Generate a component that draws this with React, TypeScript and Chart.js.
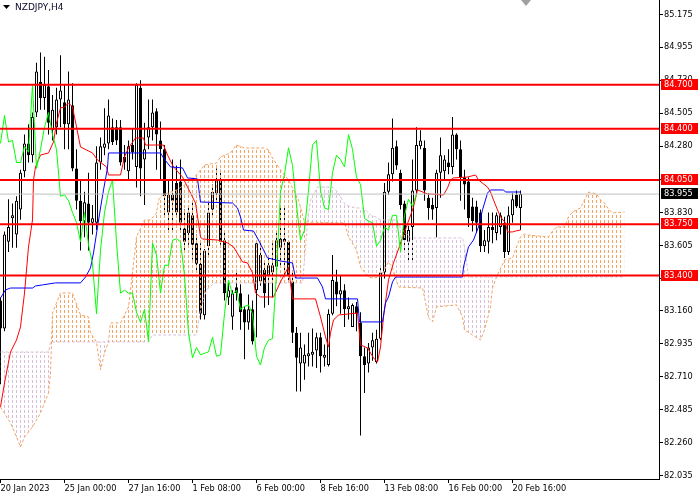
import React, { useEffect, useRef } from 'react';
import { Chart, registerables } from 'chart.js';

Chart.register(...registerables);

const symbolTitle = 'NZDJPY,H4';
const xTickBars = [0, 16, 32, 48, 64, 80, 96, 112, 128];
const xTickLabels = ['20 Jan 2023', '25 Jan 00:00', '27 Jan 16:00', '1 Feb 08:00', '6 Feb 00:00', '8 Feb 16:00', '13 Feb 08:00', '16 Feb 00:00', '20 Feb 16:00'];
const yTickValues = [85.175, 84.955, 84.73, 84.505, 84.28, 84.055, 83.83, 83.605, 83.38, 83.16, 82.935, 82.71, 82.485, 82.26, 82.035];
const levels = [84.7, 84.4, 84.05, 83.75, 83.4];
const lastPrice = 83.955;

const opens = [83.23, 83.04, 83.63, 83.79, 83.68, 83.85, 84.11, 84.30, 84.22, 84.51, 84.72, 84.61, 84.69, 84.39, 84.41, 84.60, 84.58, 84.43, 84.56, 84.13, 83.91, 83.77, 83.89, 83.76, 83.76, 84.17, 84.27, 84.30, 84.41, 84.41, 84.41, 84.21, 84.11, 84.29, 84.14, 84.68, 84.19, 84.34, 84.41, 84.52, 84.32, 84.26, 83.83, 83.95, 84.03, 84.04, 83.72, 83.69, 83.81, 83.62, 83.48, 83.13, 83.60, 83.85, 83.96, 84.05, 83.64, 83.25, 83.12, 83.32, 83.28, 83.17, 83.08, 83.17, 83.30, 83.36, 83.44, 83.40, 83.42, 83.46, 83.59, 83.65, 83.63, 83.36, 83.01, 82.80, 82.80, 82.85, 82.86, 82.89, 82.98, 82.84, 82.79, 83.14, 83.36, 83.27, 83.30, 83.17, 83.05, 83.19, 83.08, 82.85, 82.80, 82.91, 82.81, 82.97, 83.42, 83.97, 84.09, 84.28, 84.10, 83.89, 83.63, 83.73, 83.98, 84.28, 84.27, 83.93, 83.88, 83.86, 84.10, 84.11, 84.17, 84.14, 84.36, 84.26, 84.07, 84.04, 83.87, 83.87, 83.83, 83.60, 83.63, 83.73, 83.69, 83.73, 83.76, 83.56, 83.81, 83.95, 83.86];
const highs = [83.25, 83.70, 83.92, 83.89, 83.94, 84.12, 84.36, 84.43, 84.51, 84.85, 84.92, 84.89, 84.80, 84.63, 84.68, 84.90, 84.70, 84.79, 84.71, 84.26, 84.05, 83.97, 84.10, 83.88, 84.28, 84.34, 84.54, 84.60, 84.47, 84.46, 84.46, 84.29, 84.32, 84.40, 84.71, 84.73, 84.44, 84.60, 84.60, 84.54, 84.45, 84.29, 84.05, 84.19, 84.15, 84.19, 83.85, 83.88, 83.91, 83.68, 83.62, 83.58, 83.91, 84.02, 84.13, 84.12, 83.71, 83.37, 83.30, 83.44, 83.34, 83.19, 83.27, 83.23, 83.64, 83.62, 83.49, 83.54, 83.62, 83.71, 83.86, 83.87, 83.64, 83.42, 83.05, 83.01, 82.93, 83.01, 83.04, 83.01, 83.01, 82.93, 83.17, 83.54, 83.44, 83.40, 83.34, 83.25, 83.21, 83.22, 83.15, 82.91, 82.94, 83.01, 83.03, 83.45, 84.03, 84.17, 84.47, 84.32, 84.12, 83.91, 83.74, 84.19, 84.41, 84.39, 84.32, 83.96, 83.93, 84.12, 84.34, 84.22, 84.26, 84.48, 84.37, 84.32, 84.12, 84.07, 83.93, 83.91, 83.85, 83.71, 83.83, 83.83, 83.83, 83.83, 83.80, 83.87, 83.96, 83.98, 83.98];
const lows = [82.66, 83.02, 83.56, 83.59, 83.59, 83.78, 84.07, 84.17, 84.17, 84.48, 84.53, 84.53, 84.36, 84.32, 84.36, 84.41, 84.26, 84.26, 84.11, 83.85, 83.57, 83.66, 83.57, 83.68, 83.71, 84.12, 84.22, 84.26, 84.29, 84.29, 84.15, 84.12, 84.05, 84.19, 84.00, 83.94, 83.88, 84.26, 84.32, 84.12, 84.05, 83.81, 83.71, 83.69, 83.81, 83.70, 83.57, 83.61, 83.51, 83.42, 83.10, 83.10, 83.54, 83.81, 83.91, 83.61, 83.23, 83.20, 83.03, 83.23, 83.03, 82.83, 83.03, 82.93, 82.98, 83.33, 83.18, 83.20, 83.25, 83.40, 83.47, 83.40, 83.36, 82.94, 82.61, 82.61, 82.69, 82.78, 82.78, 82.77, 82.74, 82.78, 82.78, 83.13, 83.19, 83.14, 83.05, 83.10, 83.05, 83.02, 82.31, 82.60, 82.74, 82.82, 82.80, 82.96, 83.38, 83.95, 84.04, 84.12, 83.85, 83.56, 83.49, 83.49, 83.95, 84.26, 83.91, 83.78, 83.78, 83.66, 83.93, 84.05, 84.09, 84.09, 84.19, 83.91, 83.85, 83.73, 83.70, 83.69, 83.56, 83.56, 83.55, 83.62, 83.64, 83.68, 83.52, 83.54, 83.76, 83.86, 83.71];
const closes = [83.04, 83.68, 83.73, 83.81, 83.91, 84.10, 84.30, 84.22, 84.48, 84.79, 84.61, 84.70, 84.44, 84.53, 84.60, 84.66, 84.43, 84.60, 84.13, 83.91, 83.77, 83.90, 83.76, 83.79, 84.17, 84.28, 84.30, 84.49, 84.31, 84.32, 84.17, 84.17, 84.28, 84.24, 84.70, 84.13, 84.26, 84.41, 84.51, 84.36, 84.26, 83.94, 83.95, 83.91, 83.83, 83.76, 83.63, 83.83, 83.61, 83.48, 83.14, 83.57, 83.83, 83.97, 84.05, 83.63, 83.28, 83.30, 83.28, 83.28, 83.15, 83.08, 83.17, 82.95, 83.62, 83.54, 83.28, 83.47, 83.47, 83.64, 83.65, 83.63, 83.40, 83.01, 82.84, 82.91, 82.86, 82.87, 82.88, 82.98, 82.85, 82.86, 83.14, 83.37, 83.27, 83.30, 83.17, 83.19, 83.20, 83.14, 82.85, 82.79, 82.91, 82.96, 82.97, 83.42, 83.97, 84.09, 84.27, 84.15, 83.88, 83.64, 83.71, 83.98, 84.29, 84.32, 83.98, 83.86, 83.85, 84.10, 84.22, 84.19, 84.14, 84.36, 84.26, 84.07, 84.02, 83.79, 83.77, 83.76, 83.60, 83.64, 83.73, 83.71, 83.81, 83.81, 83.56, 83.81, 83.92, 83.87, 83.955];

const chikouShift = 26;

const tenkanBars = [0, 1, 2.5, 4, 5, 6, 7, 8, 8.25, 8.75, 10, 12, 13.25, 14, 15, 16, 17, 18, 19, 20, 23, 24.25, 26.5, 27, 30, 31, 32, 33.75, 35.75, 36.25, 40.75, 41.75, 43.25, 45.5, 47.5, 48.75, 49.5, 50, 50.5, 54.25, 56.75, 58.25, 60.5, 61.75, 63, 63.75, 65, 68.25, 70, 72, 73, 78.75, 80, 81.25, 82, 82.5, 83.25, 84.5, 89.25, 90, 91.75, 93.25, 94.25, 95, 95.75, 97, 98.25, 100.75, 103.25, 104.25, 106.75, 110.75, 111.75, 112.5, 113.25, 116.75, 118.75, 119.5, 121.75, 122.5, 123.25, 124.25, 125, 126.25, 126.75, 128, 128.75, 130];
const tenkanVals = [82.505, 82.668, 82.879, 82.961, 83.05, 83.281, 83.595, 83.779, 84.051, 84.14, 84.221, 84.235, 84.31, 84.439, 84.542, 84.548, 84.576, 84.548, 84.412, 84.276, 84.235, 84.187, 84.14, 84.085, 84.085, 84.208, 84.269, 84.337, 84.337, 84.289, 84.289, 84.221, 84.14, 84.071, 83.962, 83.894, 83.758, 83.663, 83.649, 83.642, 83.622, 83.595, 83.493, 83.486, 83.418, 83.281, 83.254, 83.254, 83.357, 83.458, 83.241, 83.241, 83.118, 82.982, 82.913, 83.009, 83.097, 83.131, 83.145, 82.927, 82.907, 82.839, 82.811, 82.913, 83.118, 83.37, 83.486, 83.676, 83.867, 83.983, 83.956, 83.949, 83.997, 84.051, 84.065, 84.071, 84.085, 84.051, 84.003, 83.969, 83.915, 83.847, 83.799, 83.758, 83.697, 83.697, 83.703, 83.71];

const kijunBars = [0, 1.25, 2.5, 8, 8.75, 10.5, 13.75, 20, 21.25, 22.5, 23.25, 24.25, 25, 25.75, 26.75, 27, 40, 40.75, 42.5, 45.5, 46.75, 49.25, 50, 58, 59.25, 60, 60.75, 63.25, 64.5, 65.75, 66.75, 70, 73, 73.75, 79.25, 80.5, 81.25, 89.25, 89.75, 95.5, 96.25, 97, 98, 98.75, 115.5, 115.75, 117, 118.25, 119.5, 120.5, 121.75, 122.5, 125.75, 126.25, 130];
const kijunVals = [83.247, 83.302, 83.315, 83.315, 83.329, 83.336, 83.35, 83.35, 83.39, 83.452, 83.554, 83.731, 83.86, 83.983, 84.133, 84.235, 84.235, 84.201, 84.14, 84.133, 84.065, 84.058, 83.901, 83.894, 83.86, 83.799, 83.71, 83.703, 83.642, 83.574, 83.52, 83.499, 83.486, 83.383, 83.383, 83.322, 83.241, 83.241, 83.084, 83.084, 83.213, 83.254, 83.357, 83.39, 83.39, 83.458, 83.595, 83.642, 83.731, 83.847, 83.962, 83.983, 83.983, 83.969, 83.969];

const spanABars = [0, 2.5, 4, 5, 6, 8, 10, 12, 12.5, 13, 14, 15, 18, 20, 22, 22.5, 24, 25, 26, 27, 27.5, 30, 32, 33, 34, 36, 37.5, 39, 39.5, 40.5, 44, 46, 49, 51, 54, 55, 57.5, 59, 61, 66, 67, 68, 70, 72, 73, 74.5, 76, 86, 87, 89, 90, 92, 93, 95, 97, 98, 99.5, 105.5, 106, 107, 108, 109, 114, 115.5, 116, 118, 120, 121, 122.5, 123, 124, 126, 128, 129, 130, 131, 132, 137, 138, 139, 141, 142, 143, 145, 146, 147, 148, 149, 150, 151, 152, 153, 156];
const spanAVals = [82.505, 82.396, 82.3, 82.232, 82.3, 82.368, 82.464, 82.6, 82.736, 83.145, 83.213, 83.281, 83.281, 83.131, 83.118, 83.009, 82.948, 82.757, 82.873, 82.948, 83.077, 83.077, 83.186, 83.418, 83.663, 83.779, 83.779, 83.826, 83.915, 83.949, 83.983, 84.017, 84.085, 84.153, 84.167, 84.208, 84.235, 84.289, 84.269, 84.269, 84.255, 84.201, 84.119, 84.051, 83.997, 83.915, 83.765, 83.758, 83.663, 83.574, 83.458, 83.39, 83.383, 83.39, 83.493, 83.452, 83.322, 83.315, 83.254, 83.111, 83.084, 83.186, 83.2, 83.118, 83.029, 82.995, 82.961, 83.029, 83.186, 83.315, 83.39, 83.506, 83.52, 83.595, 83.663, 83.683, 83.676, 83.663, 83.703, 83.731, 83.731, 83.799, 83.833, 83.86, 83.915, 83.969, 83.962, 83.956, 83.915, 83.894, 83.853, 83.826, 83.833];

const spanBBars = [0, 12, 12.5, 37, 38, 49, 50, 51.5, 53.5, 75.5, 76, 76.75, 77.5, 79.25, 83, 84.25, 86.25, 88.75, 90.75, 92.5, 93.75, 95, 99, 100, 102.5, 115.5, 116, 117, 156];
const spanBVals = [82.879, 82.879, 82.948, 82.948, 82.995, 82.995, 83.166, 83.302, 83.35, 83.35, 83.506, 83.765, 83.915, 84.003, 84.003, 83.969, 83.881, 83.86, 83.86, 83.813, 83.799, 83.779, 83.779, 83.724, 83.656, 83.656, 83.595, 83.39, 83.39];

const toPts = (xs: number[], ys: number[]) => xs.map((x, i) => ({ x, y: ys[i] }));

export default function App() {
  const ref = useRef<HTMLCanvasElement>(null);

  useEffect(() => {
    document.body.style.margin = '0';
    const canvas = ref.current!;
    const ctx = canvas.getContext('2d')!;
    const makePattern = (color: string) => {
      const c = document.createElement('canvas');
      c.width = 4;
      c.height = 5;
      const g = c.getContext('2d')!;
      g.fillStyle = color;
      g.fillRect(0, 0, 1, 3);
      return ctx.createPattern(c, 'repeat')!;
    };
    const orangeHatch = makePattern('#F4A460');
    const thistleHatch = makePattern('#D8BFD8');

    const xMin = -0.125;
    const xMax = 164.625;
    const font = { family: '"DejaVu Sans", sans-serif', size: 8.2 };

    const wickData = opens.map((_, i) => ({ x: i, y: [lows[i], highs[i]] }));
    const bodyData = opens.map((o, i) => ({ x: i, y: [Math.min(o, closes[i]), Math.max(o, closes[i])] }));
    const bodyColors = opens.map((o, i) => (closes[i] >= o ? '#FFFFFF' : '#000000'));
    const chikouData = closes.slice(chikouShift).map((c, i) => ({ x: i, y: c }));

    const levelSets = levels.map((v) => ({
      type: 'line' as const,
      data: [{ x: xMin, y: v }, { x: xMax, y: v }],
      borderColor: '#FF0000',
      borderWidth: 2,
      pointRadius: 0,
      order: 0,
    }));

    const overlay = {
      id: 'overlay',
      afterDraw(chart: any) {
        const { ctx: c, chartArea, scales } = chart;
        const y = scales.y;
        c.save();
        c.textBaseline = 'middle';
        c.textAlign = 'left';
        c.font = '8.2px "DejaVu Sans", sans-serif';
        const box = (v: number, bg: string) => {
          const py = Math.round(y.getPixelForValue(v));
          c.fillStyle = bg;
          c.fillRect(chartArea.right + 2, py - 6, 37, 11);
          c.fillStyle = '#FFFFFF';
          c.fillText(v.toFixed(3), chartArea.right + 5, py);
        };
        levels.forEach((v) => box(v, '#FF0000'));
        box(lastPrice, '#000000');
        // title
        c.fillStyle = '#000000';
        c.beginPath();
        c.moveTo(3, 5);
        c.lineTo(10, 5);
        c.lineTo(6.5, 9);
        c.closePath();
        c.fill();
        c.font = '9px "DejaVu Sans", sans-serif';
        c.fillStyle = '#0A0A28';
        c.fillText(symbolTitle, 15, 8);
        // chart shift marker
        c.fillStyle = '#A0A0A0';
        c.beginPath();
        c.moveTo(521, 0);
        c.lineTo(531, 0);
        c.lineTo(526, 6);
        c.closePath();
        c.fill();
        c.restore();
      },
    };

    const chart = new Chart(ctx, {
      type: 'bar',
      data: {
        datasets: [
          {
            type: 'line',
            data: toPts(spanBBars, spanBVals),
            borderColor: '#D8BFD8',
            borderWidth: 1,
            borderDash: [3, 2],
            pointRadius: 0,
            tension: 0,
            fill: false,
            order: 3,
          } as any,
          {
            type: 'line',
            data: toPts(spanABars, spanAVals),
            borderColor: '#F4A460',
            borderWidth: 1,
            borderDash: [3, 2],
            pointRadius: 0,
            tension: 0,
            fill: { target: 0, above: orangeHatch, below: thistleHatch },
            order: 3,
          } as any,
          {
            type: 'bar',
            data: wickData,
            backgroundColor: '#000000',
            borderWidth: 0,
            grouped: false,
            categoryPercentage: 1,
            barPercentage: 0.25,
            inflateAmount: 0,
            order: 6,
          } as any,
          {
            type: 'bar',
            data: bodyData,
            backgroundColor: bodyColors,
            borderColor: '#000000',
            borderWidth: 1,
            borderSkipped: false,
            grouped: false,
            categoryPercentage: 1,
            barPercentage: 0.75,
            inflateAmount: 0,
            order: 5,
          } as any,
          {
            type: 'line',
            data: chikouData,
            borderColor: '#00FF00',
            borderWidth: 1,
            pointRadius: 0,
            tension: 0,
            order: 2,
          } as any,
          {
            type: 'line',
            data: toPts(kijunBars, kijunVals),
            borderColor: '#0000FF',
            borderWidth: 1,
            pointRadius: 0,
            tension: 0,
            order: 2,
          } as any,
          {
            type: 'line',
            data: toPts(tenkanBars, tenkanVals),
            borderColor: '#FF0000',
            borderWidth: 1,
            pointRadius: 0,
            tension: 0,
            order: 2,
          } as any,
          {
            type: 'line',
            data: [{ x: xMin, y: lastPrice }, { x: xMax, y: lastPrice }],
            borderColor: '#C0C0C0',
            borderWidth: 1,
            pointRadius: 0,
            order: 1,
          } as any,
          ...levelSets,
        ] as any,
      },
      options: {
        responsive: false,
        animation: false,
        devicePixelRatio: 1,
        events: [],
        layout: { padding: 0 },
        plugins: {
          legend: { display: false },
          tooltip: { enabled: false },
        },
        scales: {
          x: {
            type: 'linear',
            position: 'bottom',
            min: xMin,
            max: xMax,
            offset: false,
            bounds: 'data',
            afterBuildTicks: (s: any) => {
              s.ticks = xTickBars.map((v) => ({ value: v }));
            },
            afterFit: (s: any) => {
              s.height = 21;
              s.paddingLeft = 0;
              s.paddingRight = 0;
            },
            ticks: {
              autoSkip: false,
              maxRotation: 0,
              minRotation: 0,
              align: 'start',
              padding: 1,
              color: '#000000',
              font,
              callback: (v: any) => {
                const i = xTickBars.indexOf(Number(v));
                return i >= 0 ? xTickLabels[i] : '';
              },
            },
            grid: { display: true, drawOnChartArea: false, drawTicks: true, tickLength: 4, color: '#000000', offset: false },
            border: { display: true, color: '#000000', width: 1 },
          },
          y: {
            type: 'linear',
            position: 'right',
            min: 82.014,
            max: 85.277,
            bounds: 'data',
            afterBuildTicks: (s: any) => {
              s.ticks = [...yTickValues].sort((a, b) => a - b).map((v) => ({ value: v }));
            },
            afterFit: (s: any) => {
              s.width = 41;
              s.paddingTop = 0;
              s.paddingBottom = 0;
            },
            ticks: {
              autoSkip: false,
              padding: 1,
              color: '#000000',
              font,
              callback: (v: any) => Number(v).toFixed(3),
            },
            grid: { display: true, drawOnChartArea: false, drawTicks: true, tickLength: 4, color: '#000000' },
            border: { display: true, color: '#000000', width: 1 },
          },
        },
      } as any,
      plugins: [overlay],
    });

    return () => chart.destroy();
  }, []);

  return (
    <div style={{ width: 700, height: 500 }}>
      <canvas ref={ref} width={700} height={500} style={{ display: 'block' }} />
    </div>
  );
}
